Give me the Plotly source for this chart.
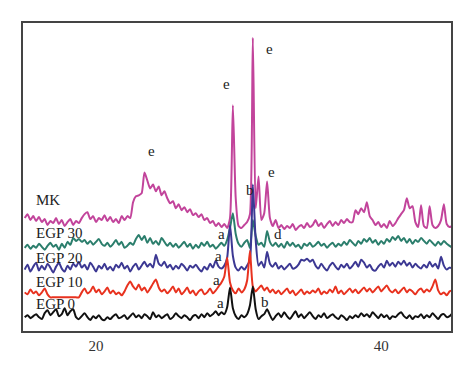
import numpy as np
import plotly.graph_objects as go

# 2-theta grid (degrees), step 0.2
two_theta = [round(15 + 0.2 * i, 1) for i in range(151)]

# intensities (arbitrary units, relative to each pattern's own baseline)
egp0 = [0, 2, -1, 1, 3, 0, -2, 4, 7, 2,
        5, 8, 1, 3, 9, 2, 6, 8, 0, -2,
        1, 4, 0, -3, 1, -1, 2, -2, -3, 0,
        -2, 1, 3, -1, 0, 2, -2, 1, 4, 0,
        2, -1, 3, 1, -2, 5, 0, 2, -1, 1,
        3, -2, 0, 4, 1, -1, 2, 0, -3, 1,
        2, -1, 3, 0, 4, 1, 3, 6, 2, 5,
        3, 10, 30, 9, 1, -2, 2, 0, 3, 12,
        31, 8, -2, 1, 3, 8, 2, -3, 1, 4,
        0, 5, 1, -2, 2, 6, 0, 3, -1, 2,
        5, 1, -2, 2, 0, 4, -1, 1, 3, 0,
        -2, 2, 0, -3, 1, -1, 2, 0, 4, 1,
        3, 0, 5, 2, -1, 3, 0, 2, -2, 1,
        0, 3, 5, 1, -1, 2, -2, 1, 0, 3,
        -1, 2, 0, 4, 1, -2, 2, 3, 0, 1,
        4]

egp10 = [2, 0, 5, 1, 3, -1, 2, 6, 0, -3,
         -3, -3, -3, -3, -3, -3, -3, -3, -3, -3,
         2, 6, 1, 3, 8, 2, 5, 0, 3, 7,
         1, 4, 0, 2, -1, 3, 9, 13, 8, 5,
         10, 4, 7, 2, 6, 11, 15, 7, 3, 5,
         1, 4, 8, 2, 6, 0, 3, 7, 1, 4,
         -1, 3, 5, 0, 2, 6, 1, 4, 8, 12,
         18, 37, 12, 4, 1, 6, 2, 5, 14, 44,
         8, 3, 6, 9, 4, 7, 2, 5, 1, 4,
         0, 3, 6, 1, 4, -1, 2, 5, 0, 3,
         1, 4, 2, 6, 0, 3, 1, 5, 2, 8,
         1, 4, 0, 3, 6, 2, 5, 1, 4, 7,
         3, 6, 2, 5, 8, 3, 6, 9, 4, 2,
         5, 1, 4, 7, 2, 5, 3, 0, 4, 6,
         2, 5, 3, 8, 15, 4, 0, 2, -1, 3,
         4]

egp20 = [0, 5, -2, 3, 7, -1, 4, 0, 6, 2,
         -3, 3, 7, 1, -2, 4, 0, 6, 3, 8,
         2, 5, 0, 7, 3, -2, 4, 1, 6, 0,
         3, -1, 5, 2, 7, 1, 4, -2, 3, 6,
         0, 4, 8, 3, 6, 2, 15, 6, 4, 8,
         2, 5, 0, 4, 1, 6, 3, -1, 4, 2,
         5, 1, -2, 3, 0, 6, 2, 9, 3, 1,
         4, 12, 45, 14, 2, -1, 3, 0, 4, 10,
         86, 30, 4, 8, 2, 18, 6, 3, 7, 1,
         4, 0, 3, 6, 1, 2, 5, 10, 9, 11,
         8, 10, 4, 1, 6, 2, -1, 4, 7, 3,
         0, 5, 2, 6, 1, 4, 8, 3, 10, 7,
         2, 5, 0, -1, 3, 6, 2, 9, 4, 7,
         3, 8, 5, 9, 4, 7, 2, 6, 3, 1,
         5, 2, 8, 3, 6, 1, 13, 4, 0, 2,
         1]

egp30 = [0, 3, -1, 2, 0, 4, 1, -2, 2, 5,
         1, 3, -2, 4, 0, 6, 3, 10, 7, 9,
         6, 8, 4, 7, 3, 6, 9, 4, 2, 5,
         1, 4, 8, 3, 6, 0, 2, 5, 3, 9,
         13, 8, 12, 5, 10, 4, 7, 3, 10, 6,
         2, 5, 1, 4, 0, 3, 6, 1, 4, -1,
         3, 0, 5, 2, 6, 1, 3, -1, 2, 5,
         2, 8, 20, 35, 14, 4, 1, 5, 8, 0,
         28, 12, 3, 5, 1, 17, 6, 2, 5, 1,
         4, 0, 6, 2, 5, 1, 3, -1, 4, 2,
         5, 1, 3, 6, 2, 4, 0, 3, 5, 1,
         4, 2, 6, 3, 8, 5, 2, 7, 4, 9,
         6, 10, 5, 8, 3, 7, 4, 9, 6, 11,
         8, 12, 7, 10, 5, 9, 4, 8, 6, 10,
         7, 4, 8, 5, 2, 6, 3, 7, 4, 2,
         0]

mk = [10, 14, 8, 12, 7, 11, 6, 9, 3, 7,
      5, 10, 4, 8, 2, 6, 9, 3, 7, 5,
      10, 14, 16, 9, 12, 6, 10, 8, 13, 7,
      11, 6, 9, 5, 12, 8, 12, 10, 26, 32,
      33, 35, 56, 48, 40, 44, 37, 42, 33, 37,
      30, 25, 27, 20, 24, 18, 21, 16, 19, 13,
      15, 11, 14, 8, 10, 5, 7, 2, 5, 1,
      4, 0, 10, 124, 30, 2, 0, 3, 6, 14,
      192, 20, 52, 8, 15, 47, 10, 2, 8, 0,
      3, -1, 2, 0, 4, -2, 1, 3, 0, 5,
      1, 3, 8, 2, 5, 0, 4, 7, 2, 6,
      3, 8, 5, 9, 6, 6, 18, 14, 20, 16,
      26, 12, 8, 3, 6, 1, 4, 0, 7, 2,
      5, 10, 14, 18, 30, 20, 22, 6, 1, 23,
      2, 0, 22, 3, 0, 2, 8, 24, 4, 1,
      2]

series_names = ["MK", "EGP 30", "EGP 20", "EGP 10", "EGP 0"]
series_values = [mk, egp30, egp20, egp10, egp0]
offsets = [104, 84, 62, 37, 14]
colors = ["#C2449B", "#2B7E6C", "#3C3893", "#E8321F", "#111111"]

x_ticks = [20, 40]

fig = go.Figure()
for name, vals, off, col in zip(series_names, series_values, offsets, colors):
    fig.add_trace(go.Scatter(
        x=two_theta, y=np.array(vals) + off, mode="lines", name=name,
        line=dict(color=col, width=2, shape="spline", smoothing=0.6),
        showlegend=False))

# series labels
label_y = [132, 99, 74, 49, 27]
for name, ly in zip(series_names, label_y):
    fig.add_annotation(x=15.65, y=ly, text=name, showarrow=False,
                       xanchor="left", yanchor="middle",
                       font=dict(family="Liberation Serif", size=15, color="#222"))

# phase markers
peak_letters = ["e", "e", "e", "e", "b", "a", "d", "a", "a", "a", "b"]
letter_x = [23.91, 29.18, 32.19, 32.33, 30.79, 28.82, 32.75, 28.61, 28.47, 28.75, 31.84]
letter_y = [182, 249, 285, 161, 142, 98, 98, 76, 52, 28, 29]
for t, lx, ly in zip(peak_letters, letter_x, letter_y):
    fig.add_annotation(x=lx, y=ly, text=t, showarrow=False,
                       font=dict(family="Liberation Serif", size=15, color="#222"))

fig.update_layout(
    width=458, height=358,
    margin=dict(l=15, r=15, t=15, b=32),
    paper_bgcolor="white", plot_bgcolor="white",
    xaxis=dict(range=[14.88, 44.9], tickvals=x_ticks, ticktext=[str(v) for v in x_ticks],
               showgrid=False, zeroline=False, ticks="",
               showline=True, mirror=True, linecolor="#444", linewidth=1.5,
               tickfont=dict(family="Liberation Serif", size=15, color="#333")),
    yaxis=dict(range=[0, 311], showticklabels=False, showgrid=False, zeroline=False,
               ticks="", showline=True, mirror=True, linecolor="#444", linewidth=1.5),
)

fig.write_html("out.html")
